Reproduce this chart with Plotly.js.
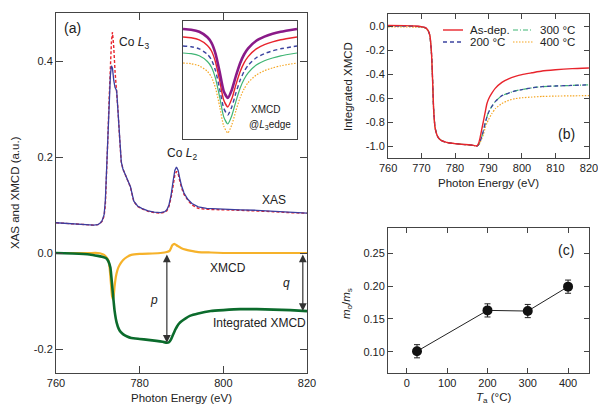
<!DOCTYPE html>
<html>
<head>
<meta charset="utf-8">
<script src="https://cdn.plot.ly/plotly-3.0.1.min.js"></script>
<style>html,body{margin:0;padding:0;background:#fff}#chart{width:598px;height:405px}</style>
</head>
<body>
<div id="chart"></div>
<script>
// ---------- Panel (a): XAS ----------
const E_xas = [760,762,764,766,768,769,770,770.5,771,771.5,771.8,772.1,772.4,772.7,773,773.25,773.5,773.8,774.1,774.5,774.8,775.2,775.6,776,776.5,777,777.8,778.6,779.5,780.5,782,783.5,785,786,786.5,787,787.5,788,788.4,788.8,789.2,789.6,790,790.6,791.5,792.5,794,796,798,800,804,808,812,816,820];
const xasBlue = [0.063,0.062,0.060,0.059,0.058,0.058,0.059,0.062,0.067,0.08,0.11,0.18,0.26,0.33,0.37,0.39,0.385,0.36,0.345,0.338,0.30,0.24,0.19,0.175,0.165,0.155,0.138,0.108,0.098,0.093,0.088,0.085,0.084,0.086,0.09,0.10,0.12,0.15,0.172,0.179,0.172,0.155,0.14,0.125,0.112,0.103,0.096,0.093,0.092,0.091,0.090,0.089,0.087,0.085,0.083];
const xasRed = [0.063,0.062,0.060,0.059,0.058,0.058,0.059,0.061,0.066,0.077,0.10,0.16,0.24,0.32,0.40,0.44,0.46,0.43,0.38,0.34,0.30,0.24,0.19,0.175,0.165,0.155,0.137,0.107,0.097,0.092,0.087,0.084,0.083,0.085,0.088,0.097,0.115,0.14,0.162,0.17,0.165,0.15,0.136,0.122,0.11,0.10,0.093,0.091,0.09,0.09,0.089,0.088,0.086,0.084,0.083];

// XMCD
const E_mcd = [760,765,768,770,771,771.5,772,772.5,772.8,773.1,773.4,773.7,774,774.3,774.7,775.2,776,777,778,780,783,785,786.5,787.2,787.8,788.3,789,790,791,792,794,797,800,805,810,815,820];
const xmcd = [0,0,0,0,-0.002,-0.004,-0.008,-0.015,-0.03,-0.06,-0.09,-0.097,-0.07,-0.05,-0.035,-0.025,-0.015,-0.008,-0.004,-0.002,-0.001,0,0.002,0.005,0.016,0.019,0.015,0.01,0.007,0.005,0.002,0.001,0,0,0,0,0];

// Integrated XMCD
const E_int = [760,764,768,770,771,772,772.5,773,773.5,774,774.5,775,775.5,776,777,778,780,782,784,785.5,786.5,787,787.5,788,788.5,789,789.5,790,791,792,794,797,800,804,808,812,816,820];
const xmcdInt = [0,-0.001,-0.003,-0.006,-0.008,-0.011,-0.017,-0.03,-0.075,-0.12,-0.145,-0.158,-0.165,-0.169,-0.174,-0.177,-0.179,-0.181,-0.183,-0.185,-0.187,-0.186,-0.18,-0.17,-0.16,-0.152,-0.146,-0.142,-0.136,-0.131,-0.126,-0.121,-0.119,-0.117,-0.117,-0.118,-0.119,-0.121];

// p and q arrows
const arrowE = [786.5, 819];
const arrowTop = [0, 0];
const arrowBottom = [-0.187, -0.121];
const arrowLabels = ['p', 'q'];

// Inset: XMCD @ L3 edge
const E_inset = [768,769,770,771,771.5,772,772.5,773,773.5,774,774.5,775,775.5,776,777,778,779,780,782];
const insetPurple = [-0.08,-0.087,-0.108,-0.163,-0.218,-0.328,-0.508,-0.701,-0.77,-0.687,-0.549,-0.425,-0.335,-0.273,-0.197,-0.156,-0.128,-0.108,-0.08];
const insetRed = [-0.16,-0.167,-0.188,-0.244,-0.30,-0.412,-0.594,-0.79,-0.86,-0.776,-0.636,-0.51,-0.419,-0.356,-0.279,-0.237,-0.209,-0.188,-0.16];
const insetBlue = [-0.25,-0.257,-0.278,-0.333,-0.388,-0.498,-0.678,-0.871,-0.94,-0.857,-0.719,-0.595,-0.505,-0.443,-0.367,-0.326,-0.298,-0.278,-0.25];
const insetGreen = [-0.32,-0.327,-0.348,-0.405,-0.462,-0.576,-0.76,-0.959,-1.03,-0.945,-0.803,-0.675,-0.583,-0.519,-0.441,-0.398,-0.37,-0.348,-0.32];
const insetOrange = [-0.42,-0.427,-0.448,-0.504,-0.56,-0.672,-0.854,-1.05,-1.12,-1.036,-0.896,-0.77,-0.679,-0.616,-0.539,-0.497,-0.469,-0.448,-0.42];

// ---------- Panel (b): normalized integrated XMCD ----------
const E_b = [760,765,768,770,771,771.5,772,772.5,773,773.3,773.6,774,774.5,775,775.5,776,777,778,780,782,784,785.5,786.5,787,787.5,788,788.5,789,789.5,790,791,792,794,796,798,800,803,806,810,815,820];
const intAsDep = [0.004,0.003,0,-0.006,-0.012,-0.02,-0.04,-0.08,-0.24,-0.45,-0.69,-0.84,-0.9,-0.93,-0.945,-0.955,-0.966,-0.973,-0.98,-0.986,-0.99,-0.995,-1.0,-0.98,-0.93,-0.86,-0.79,-0.72,-0.65,-0.61,-0.56,-0.52,-0.47,-0.44,-0.42,-0.405,-0.39,-0.375,-0.365,-0.355,-0.35];
const int200 = [0,0,-0.002,-0.007,-0.013,-0.021,-0.04,-0.08,-0.24,-0.45,-0.69,-0.84,-0.9,-0.93,-0.945,-0.955,-0.966,-0.973,-0.98,-0.986,-0.99,-0.995,-1.0,-0.99,-0.96,-0.92,-0.87,-0.81,-0.76,-0.72,-0.67,-0.63,-0.58,-0.56,-0.54,-0.53,-0.515,-0.505,-0.5,-0.495,-0.49];
const int300 = [0,0,-0.002,-0.007,-0.013,-0.021,-0.04,-0.08,-0.24,-0.45,-0.69,-0.84,-0.9,-0.93,-0.945,-0.955,-0.966,-0.973,-0.98,-0.986,-0.99,-0.995,-1.0,-0.99,-0.96,-0.92,-0.87,-0.81,-0.76,-0.72,-0.67,-0.63,-0.58,-0.56,-0.54,-0.53,-0.515,-0.505,-0.5,-0.495,-0.49];
const int400 = [-0.008,-0.008,-0.009,-0.012,-0.018,-0.026,-0.045,-0.085,-0.24,-0.45,-0.69,-0.84,-0.9,-0.93,-0.945,-0.955,-0.966,-0.973,-0.98,-0.986,-0.99,-0.995,-1.0,-0.995,-0.97,-0.94,-0.9,-0.85,-0.81,-0.78,-0.73,-0.69,-0.645,-0.62,-0.605,-0.598,-0.592,-0.587,-0.584,-0.582,-0.58];
const seriesNamesB = ['As-dep.', '200 °C', '300 °C', '400 °C'];

// ---------- Panel (c): orbital/spin ratio ----------
const Ta = [25, 200, 300, 400];
const ratio = [0.101, 0.163, 0.162, 0.199];
const ratioErr = [0.010, 0.010, 0.010, 0.010];

// tick labels
const xTicksA = [760, 780, 800, 820];
const yTicksA = [-0.2, 0, 0.2, 0.4];
const yTickTextA = ['-0.2', '0.0', '0.2', '0.4'];
const xTicksB = [760, 770, 780, 790, 800, 810, 820];
const yTicksB = [-1.0, -0.8, -0.6, -0.4, -0.2, 0.0];
const yTickTextB = ['-1.0', '-0.8', '-0.6', '-0.4', '-0.2', '0.0'];
const xTicksC = [0, 100, 200, 300, 400];
const yTicksC = [0.10, 0.15, 0.20, 0.25];
const yTickTextC = ['0.10', '0.15', '0.20', '0.25'];

const RED = '#e8242c', BLUE = '#3c44a0', GREEN_L = '#3fb574', ORANGE = '#f5a623';
const XAS_BLUE = '#3d3d9e', XMCD_OR = '#f6b22a', INT_GREEN = '#0b6b2c', PURPLE = '#8a1a88';
const DASH_B = '4px,3px', DASHDOT_B = '5px,2px,1px,2px', DOT_B = '1.5px,1.5px';
const styleB = [
  {color: RED, width: 1.4, dash: 'solid'},
  {color: BLUE, width: 1.3, dash: DASH_B},
  {color: GREEN_L, width: 1.2, dash: DASHDOT_B},
  {color: ORANGE, width: 1.2, dash: DOT_B}
];
const dataB = [intAsDep, int200, int300, int400];

const traces = [
  // panel a
  {x: E_xas, y: xasRed, xaxis: 'x', yaxis: 'y', mode: 'lines', line: {color: RED, width: 1.4, dash: '3px,2px'}},
  {x: E_xas, y: xasBlue, xaxis: 'x', yaxis: 'y', mode: 'lines', line: {color: XAS_BLUE, width: 1.3}},
  {x: E_mcd, y: xmcd, xaxis: 'x', yaxis: 'y', mode: 'lines', line: {color: XMCD_OR, width: 2.2, shape: 'spline', smoothing: 0.4}},
  {x: E_int, y: xmcdInt, xaxis: 'x', yaxis: 'y', mode: 'lines', line: {color: INT_GREEN, width: 2.6, shape: 'spline', smoothing: 0.4}},
  // inset
  {x: E_inset, y: insetOrange, xaxis: 'x4', yaxis: 'y4', mode: 'lines', line: {color: ORANGE, width: 1.2, dash: DOT_B, shape: 'spline', smoothing: 0.6}},
  {x: E_inset, y: insetGreen, xaxis: 'x4', yaxis: 'y4', mode: 'lines', line: {color: GREEN_L, width: 1.2, shape: 'spline', smoothing: 0.6}},
  {x: E_inset, y: insetBlue, xaxis: 'x4', yaxis: 'y4', mode: 'lines', line: {color: BLUE, width: 1.4, dash: DASH_B, shape: 'spline', smoothing: 0.6}},
  {x: E_inset, y: insetRed, xaxis: 'x4', yaxis: 'y4', mode: 'lines', line: {color: RED, width: 1.4, shape: 'spline', smoothing: 0.6}},
  {x: E_inset, y: insetPurple, xaxis: 'x4', yaxis: 'y4', mode: 'lines', line: {color: PURPLE, width: 2.6, shape: 'spline', smoothing: 0.6}}
];
// panel b (drawn back to front: 400, 300, 200, as-dep)
for (let i = 3; i >= 0; i--) {
  traces.push({x: E_b, y: dataB[i], xaxis: 'x2', yaxis: 'y2', mode: 'lines', name: seriesNamesB[i],
    line: Object.assign({shape: 'spline', smoothing: 0.4}, styleB[i])});
}
// panel c
traces.push({x: Ta, y: ratio, xaxis: 'x3', yaxis: 'y3', mode: 'lines+markers',
   line: {color: '#222', width: 1}, marker: {color: '#111', size: 10},
   error_y: {type: 'data', array: ratioErr, color: '#222', thickness: 1, width: 3}});

const FONT = 'Liberation Sans, Arial, sans-serif';
const axisBase = {showline: true, linecolor: '#444', linewidth: 1, mirror: 'ticks', ticks: 'inside',
  ticklen: 6, tickwidth: 1, tickcolor: '#444', showgrid: false, zeroline: false, automargin: false,
  ticklabeloverflow: 'allow', tickfont: {family: FONT, size: 11, color: '#222'}};

const ann = [];
const shapes = [];
function txt(xref, yref, x, y, text, size, extra) {
  ann.push(Object.assign({xref: xref, yref: yref, x: x, y: y, text: text, showarrow: false,
    xanchor: 'center', yanchor: 'middle', font: {size: size}}, extra || {}));
}
// panel (a) texts
txt('x', 'y', 763.9, 0.469, '(a)', 14);
txt('x', 'y', 778.6, 0.437, 'Co <i>L</i><sub>3</sub>', 12);
txt('x', 'y', 790.1, 0.206, 'Co <i>L</i><sub>2</sub>', 12);
txt('x', 'y', 812.1, 0.110, 'XAS', 12);
txt('x', 'y', 801.2, -0.031, 'XMCD', 12);
txt('x', 'y', 797.0, -0.146, 'Integrated XMCD', 12, {xanchor: 'left'});
txt('x', 'y', 783.4, -0.098, '<i>' + arrowLabels[0] + '</i>', 12);
txt('x', 'y', 815.2, -0.062, '<i>' + arrowLabels[1] + '</i>', 12);
for (let i = 0; i < arrowE.length; i++) {
  ann.push({xref: 'x', yref: 'y', axref: 'x', ayref: 'y', x: arrowE[i], y: arrowBottom[i], ax: arrowE[i], ay: arrowTop[i],
    text: '', showarrow: true, arrowhead: 2, startarrowhead: 2, arrowside: 'end+start', arrowsize: 1.3, startarrowsize: 1.3,
    arrowwidth: 1.2, arrowcolor: '#333'});
}
// inset texts
txt('x4', 'y4', 778.1, -0.89, 'XMCD', 10);
txt('x4', 'y4', 778.7, -1.04, '@<i>L</i><sub>3</sub>edge', 10);
// panel labels
txt('x2', 'y2', 813.4, -0.9, '(b)', 14);
txt('x3', 'y3', 395, 0.2545, '(c)', 14);
// axis titles
txt('paper', 'paper', 15/598, 1-193/405, 'XAS and XMCD (a.u.)', 11.5, {textangle: -90});
txt('paper', 'paper', 181/598, 1-398/405, 'Photon Energy (eV)', 11.5);
txt('paper', 'paper', 348/598, 1-86/405, 'Integrated XMCD', 11.5, {textangle: -90});
txt('paper', 'paper', 488/598, 1-183/405, 'Photon Energy (eV)', 11.5);
txt('paper', 'paper', 347/598, 1-303/405, '<i>m</i><sub>o</sub>/<i>m</i><sub>s</sub>', 11.5, {textangle: -90});
txt('paper', 'paper', 493/598, 1-398/405, '<i>T</i><sub>a</sub> (°C)', 11.5);

// legend for panel (b): two columns (As-dep., 200 °C | 300 °C, 400 °C)
const legCol = [443, 443, 513, 513];
const legRow = [30, 42, 30, 42];
for (let i = 0; i < 4; i++) {
  shapes.push({type: 'line', xref: 'paper', yref: 'paper', x0: legCol[i]/598, x1: (legCol[i]+20)/598,
    y0: 1-legRow[i]/405, y1: 1-legRow[i]/405, line: styleB[i]});
  txt('paper', 'paper', (legCol[i]+25)/598, 1-legRow[i]/405, seriesNamesB[i], 11.5, {xanchor: 'left'});
}

const layout = {
  width: 598, height: 405,
  margin: {l: 0, r: 0, t: 0, b: 0},
  showlegend: false,
  paper_bgcolor: '#fff', plot_bgcolor: 'rgba(0,0,0,0)',
  font: {family: FONT, size: 11, color: '#222'},
  xaxis: Object.assign({}, axisBase, {domain: [56/598, 307/598], range: [760, 820], tickvals: xTicksA, anchor: 'y', ticklen: 7}),
  yaxis: Object.assign({}, axisBase, {domain: [1-373/405, 1-13/405], range: [-0.25, 0.5], tickvals: yTicksA, ticktext: yTickTextA, anchor: 'x', ticklen: 7}),
  xaxis2: Object.assign({}, axisBase, {domain: [388/598, 589/598], range: [759.98, 820.02], tickvals: xTicksB, anchor: 'y2', ticklen: 5}),
  yaxis2: Object.assign({}, axisBase, {domain: [1-158/405, 1-14/405], range: [-1.1, 0.1], tickvals: yTicksB, ticktext: yTickTextB, anchor: 'x2', ticklen: 5}),
  xaxis3: Object.assign({}, axisBase, {domain: [388/598, 589/598], range: [-47, 452], tickvals: xTicksC, anchor: 'y3', ticklen: 5}),
  yaxis3: Object.assign({}, axisBase, {domain: [1-373/405, 1-228/405], range: [0.068, 0.288], tickvals: yTicksC, ticktext: yTickTextC, anchor: 'x3', ticklen: 5}),
  xaxis4: {domain: [183/598, 297/598], range: [768, 782], anchor: 'y4', showline: true, mirror: true, linecolor: '#444', linewidth: 1, showticklabels: false, ticks: '', showgrid: false, zeroline: false},
  yaxis4: {domain: [1-139/405, 1-21/405], range: [-1.18, 0], anchor: 'x4', showline: true, mirror: true, linecolor: '#444', linewidth: 1, showticklabels: false, ticks: '', showgrid: false, zeroline: false},
  annotations: ann,
  shapes: shapes
};

Plotly.newPlot('chart', traces, layout, {displayModeBar: false, staticPlot: true});
</script>
</body>
</html>
